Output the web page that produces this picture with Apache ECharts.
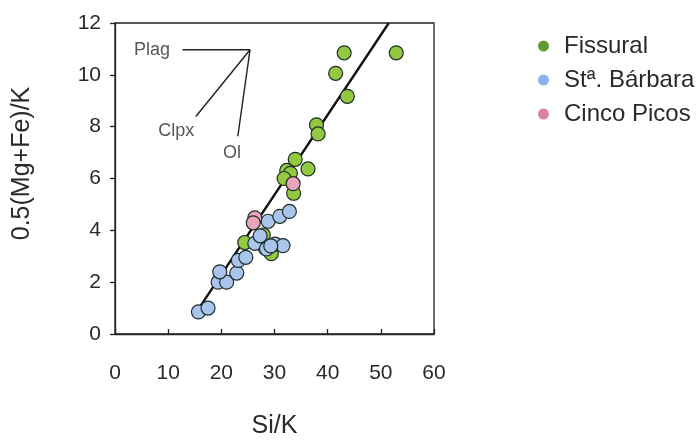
<!DOCTYPE html>
<html>
<head>
<meta charset="utf-8">
<script src="https://cdn.jsdelivr.net/npm/echarts@6/dist/echarts.min.js"></script>
<style>html,body{margin:0;padding:0;background:#fff;}#c{width:698px;height:444px;}</style>
</head>
<body>
<div id="c"></div>
<script>
// ---- data ----
const seriesNames = ['Fissural', 'Stª. Bárbara', 'Cinco Picos'];
const fissuralX = [43.1, 52.9, 41.5, 43.7, 37.9, 38.2, 33.9, 36.3, 32.3, 33.0, 31.8, 33.6, 24.4, 27.9, 29.4, 28.3];
const fissuralY = [10.85, 10.85, 10.06, 9.17, 8.07, 7.72, 6.74, 6.37, 6.31, 6.2, 6.0, 5.43, 3.53, 3.82, 3.1, 3.3];
const barbaraX = [15.7, 17.5, 19.4, 21.0, 19.7, 22.9, 23.2, 24.6, 26.3, 28.5, 30.1, 31.6, 28.8, 31.0, 32.8, 29.3, 27.3];
const barbaraY = [0.85, 1.0, 2.0, 2.0, 2.4, 2.35, 2.84, 2.96, 3.5, 3.28, 3.47, 3.41, 4.35, 4.54, 4.73, 3.4, 3.79];
const picosX = [33.5, 26.3, 26.0];
const picosY = [5.8, 4.48, 4.29];
const trendX = [15.5, 51.5];
const trendY = [0.9, 12.0];
const mineralNames = ['Plag', 'Clpx', 'Ol'];
const mineralFromX = [12.7, 15.2, 23.1];
const mineralFromY = [10.97, 8.39, 7.63];
const apexX = 25.4, apexY = 10.97;
const mineralLabelX = [6.95, 11.5, 22.0];
const mineralLabelY = [10.94, 7.83, 7.0];
const xTicks = [0, 10, 20, 30, 40, 50, 60];
const yTicks = [0, 2, 4, 6, 8, 10, 12];

// ---- chart ----
const FONT = '"Liberation Sans", Arial, sans-serif';
const fills = ['#93c941', '#a9c5ec', '#e8a5bb'];
const legendFills = ['#5f9a32', '#8ab5ea', '#d9849f'];
const zip = (xs, ys) => xs.map((x, i) => [x, ys[i]]);

const scatterSeries = [
  [fissuralX, fissuralY], [barbaraX, barbaraY], [picosX, picosY]
].map((d, i) => ({
  name: seriesNames[i],
  type: 'scatter',
  symbol: 'circle',
  symbolSize: 14,
  z: 3 + i,
  itemStyle: { color: fills[i], borderColor: '#1f2d28', borderWidth: 1.2, opacity: 1 },
  data: zip(d[0], d[1])
}));

const mineralLines = mineralNames.map((n, i) => ({
  name: 'line-' + n,
  type: 'line',
  symbol: 'none',
  silent: true,
  z: 2,
  lineStyle: { color: '#222', width: 1.4 },
  data: [[mineralFromX[i], mineralFromY[i]], [apexX, apexY]]
}));

const option = {
  animation: false,
  backgroundColor: '#fff',
  grid: { left: 115, right: 264, top: 23, bottom: 104, show: true, borderColor: '#222', borderWidth: 1.3, backgroundColor: 'transparent' },
  xAxis: {
    type: 'value', min: xTicks[0], max: xTicks[xTicks.length - 1], interval: 10,
    name: 'Si/K', nameLocation: 'middle', nameGap: 80,
    nameTextStyle: { fontFamily: FONT, fontSize: 25, color: '#2a2a2a' },
    axisLine: { show: true, lineStyle: { color: '#222', width: 1.3 } },
    axisTick: { show: true, inside: true, length: 5, lineStyle: { color: '#222', width: 1.3 } },
    axisLabel: { fontFamily: FONT, fontSize: 21, color: '#2a2a2a', margin: 29 },
    splitLine: { show: false }
  },
  yAxis: {
    type: 'value', min: yTicks[0], max: yTicks[yTicks.length - 1], interval: 2,
    name: '0.5(Mg+Fe)/K', nameLocation: 'middle', nameGap: 80,
    nameTextStyle: { fontFamily: FONT, fontSize: 25, color: '#2a2a2a', padding: [0, 0, 0, 30] },
    axisLine: { show: true, lineStyle: { color: '#222', width: 1.3 } },
    axisTick: { show: true, length: 5, lineStyle: { color: '#222', width: 1.3 } },
    axisLabel: { fontFamily: FONT, fontSize: 21, color: '#2a2a2a', margin: 14 },
    splitLine: { show: false }
  },
  legend: {
    orient: 'vertical', left: 533, top: 27, itemGap: 6,
    itemWidth: 11, itemHeight: 11, icon: 'circle',
    textStyle: { fontFamily: FONT, fontSize: 24, color: '#2a2a2a', lineHeight: 28, padding: [0, 0, 0, 10] },
    data: seriesNames.map((n, i) => ({ name: n, itemStyle: { color: legendFills[i], borderWidth: 0 } }))
  },
  series: [
    ...mineralLines,
    {
      name: 'mineral-labels', type: 'scatter', symbolSize: 0, silent: true, z: 2,
      label: { show: true, position: 'inside', formatter: p => p.data[2], fontFamily: FONT, fontSize: 18, color: '#2a2a2a' },
      data: mineralNames.map((n, i) => [mineralLabelX[i], mineralLabelY[i], n])
    },
    {
      name: 'trend', type: 'line', symbol: 'none', silent: true, z: 2.5,
      lineStyle: { color: '#111', width: 2.4 },
      data: zip(trendX, trendY)
    },
    ...scatterSeries
  ]
};

const chart = echarts.init(document.getElementById('c'), null, { renderer: 'canvas' });
chart.setOption(option);
</script>
</body>
</html>
